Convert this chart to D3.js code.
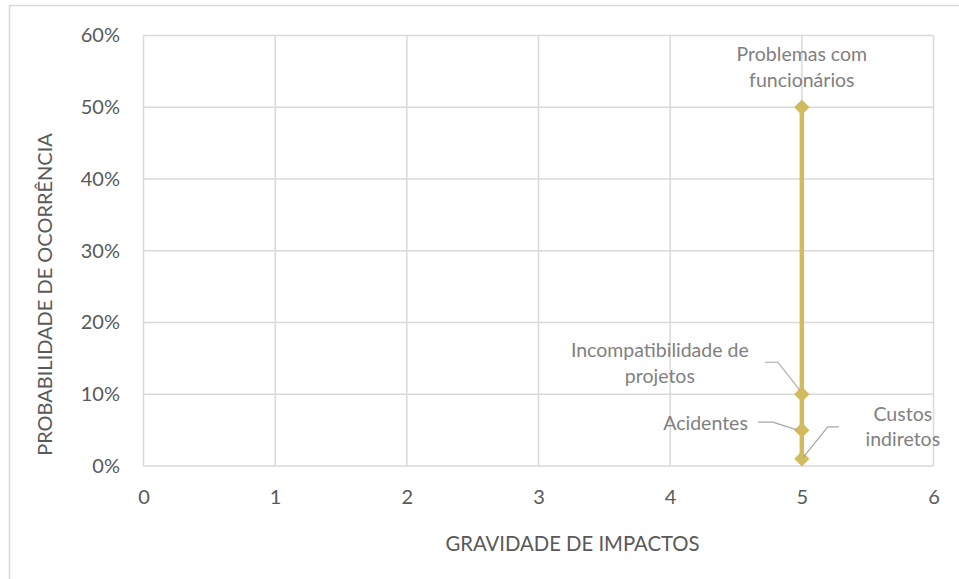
<!DOCTYPE html>
<html>
<head>
<meta charset="utf-8">
<script src="https://cdn.jsdelivr.net/npm/d3@7"></script>
<style>
  html, body { margin: 0; padding: 0; background: #fff; }
  svg { display: block; font-family: Lato, "Open Sans", sans-serif; }
</style>
</head>
<body>
<svg id="chart" width="959" height="579"></svg>
<script>
// Risk items: severity (x) and probability of occurrence (y)
const riskNames = ["Problemas com funcionários", "Incompatibilidade de projetos", "Acidentes", "Custos indiretos"];
const severity = [5, 5, 5, 5];
const probability = [0.50, 0.10, 0.05, 0.01];

const xTicks = [0, 1, 2, 3, 4, 5, 6];
const yTicks = [0, 0.1, 0.2, 0.3, 0.4, 0.5, 0.6];

const xTitle = "GRAVIDADE DE IMPACTOS";
const yTitle = "PROBABILIDADE DE OCORRÊNCIA";

const svg = d3.select("#chart");
const W = 959, H = 579;
// the chart frame is wider and taller than the visible canvas
const frame = { x: 9.5, y: 5.5, w: 1126, h: 578 };
const plot = { left: 143.5, right: 933.5, top: 35.5, bottom: 466 };

const x = d3.scaleLinear().domain([0, 6]).range([plot.left, plot.right]);
const y = d3.scaleLinear().domain([0, 0.6]).range([plot.bottom, plot.top]);

const gridColor = "#d9d9d9";
const tickColor = "#595959";
const labelColor = "#7f7f7f";
const markColor = "#d2bb5e";
const font = "Lato, 'Open Sans', sans-serif";

// outer chart frame
svg.append("rect")
  .attr("x", frame.x).attr("y", frame.y)
  .attr("width", frame.w).attr("height", frame.h + 20)
  .attr("fill", "#fff").attr("stroke", gridColor).attr("stroke-width", 1.5);

// gridlines
const grid = svg.append("g");
grid.selectAll("line.h").data(yTicks).join("line")
  .attr("x1", plot.left).attr("x2", plot.right)
  .attr("y1", d => y(d)).attr("y2", d => y(d))
  .attr("stroke", gridColor).attr("stroke-width", 1.5);
grid.selectAll("line.v").data(xTicks).join("line")
  .attr("y1", plot.top).attr("y2", plot.bottom)
  .attr("x1", d => x(d)).attr("x2", d => x(d))
  .attr("stroke", gridColor).attr("stroke-width", 1.5);

// axes (labels only; domain and ticks hidden)
const xAxis = svg.append("g")
  .attr("transform", `translate(0,${plot.bottom})`)
  .call(d3.axisBottom(x).tickValues(xTicks).tickFormat(d3.format("d")).tickSize(0).tickPadding(24));
const yAxis = svg.append("g")
  .attr("transform", `translate(${plot.left},0)`)
  .call(d3.axisLeft(y).tickValues(yTicks).tickFormat(d3.format(".0%")).tickSize(0).tickPadding(23.5));
[xAxis, yAxis].forEach(g => {
  g.select(".domain").remove();
  g.selectAll("text").attr("fill", tickColor).attr("font-size", 20).attr("font-family", font);
});

// axis titles, centred on the chart frame
svg.append("text")
  .attr("x", frame.x + frame.w / 2).attr("y", 551)
  .attr("text-anchor", "middle").attr("fill", tickColor).attr("font-size", 20.3)
  .text(xTitle);
svg.append("text")
  .attr("transform", `translate(52,${frame.y + frame.h / 2}) rotate(-90)`)
  .attr("text-anchor", "middle").attr("fill", tickColor).attr("font-size", 20)
  .text(yTitle);

// series line
const pts = severity.map((s, i) => ({ s, p: probability[i], name: riskNames[i] }));
svg.append("path")
  .datum(pts)
  .attr("fill", "none").attr("stroke", markColor).attr("stroke-width", 4.5)
  .attr("d", d3.line().x(d => x(d.s)).y(d => y(d.p)));

// diamond markers
svg.selectAll("path.marker").data(pts).join("path")
  .attr("class", "marker")
  .attr("transform", d => `translate(${x(d.s)},${y(d.p)})`)
  .attr("d", d3.symbol(d3.symbolDiamond2, 150)())
  .attr("fill", markColor);

// data labels: text lines, offsets and leader polylines relative to the point
const labelLayout = [
  { lines: ["Problemas com", "funcionários"], dx: 0, dy: -46, anchor: "middle", leader: null },
  { lines: ["Incompatibilidade de", "projetos"], dx: -142, dy: -37, anchor: "middle",
    leader: [[-37, -32], [-24, -32], [-2, -4]] },
  { lines: ["Acidentes"], dx: -54, dy: -0.5, anchor: "end",
    leader: [[-44, -8], [-29, -8], [-4, 0]] },
  { lines: ["Custos", "indiretos"], dx: 101, dy: -38, anchor: "middle",
    leader: [[37, -32], [26, -32], [1, -1]] }
];

const labels = svg.append("g");
pts.forEach((d, i) => {
  const L = labelLayout[i];
  const px = x(d.s), py = y(d.p);
  if (L.leader) {
    labels.append("path")
      .attr("d", d3.line()(L.leader.map(([a, b]) => [px + a, py + b])))
      .attr("fill", "none").attr("stroke", "#a6a6a6").attr("stroke-width", 1.2);
  }
  const t = labels.append("text")
    .attr("text-anchor", L.anchor).attr("fill", labelColor).attr("font-size", 19.5);
  L.lines.forEach((ln, k) => {
    t.append("tspan").attr("x", px + L.dx).attr("y", py + L.dy + k * 25.5).text(ln);
  });
});
</script>
</body>
</html>
